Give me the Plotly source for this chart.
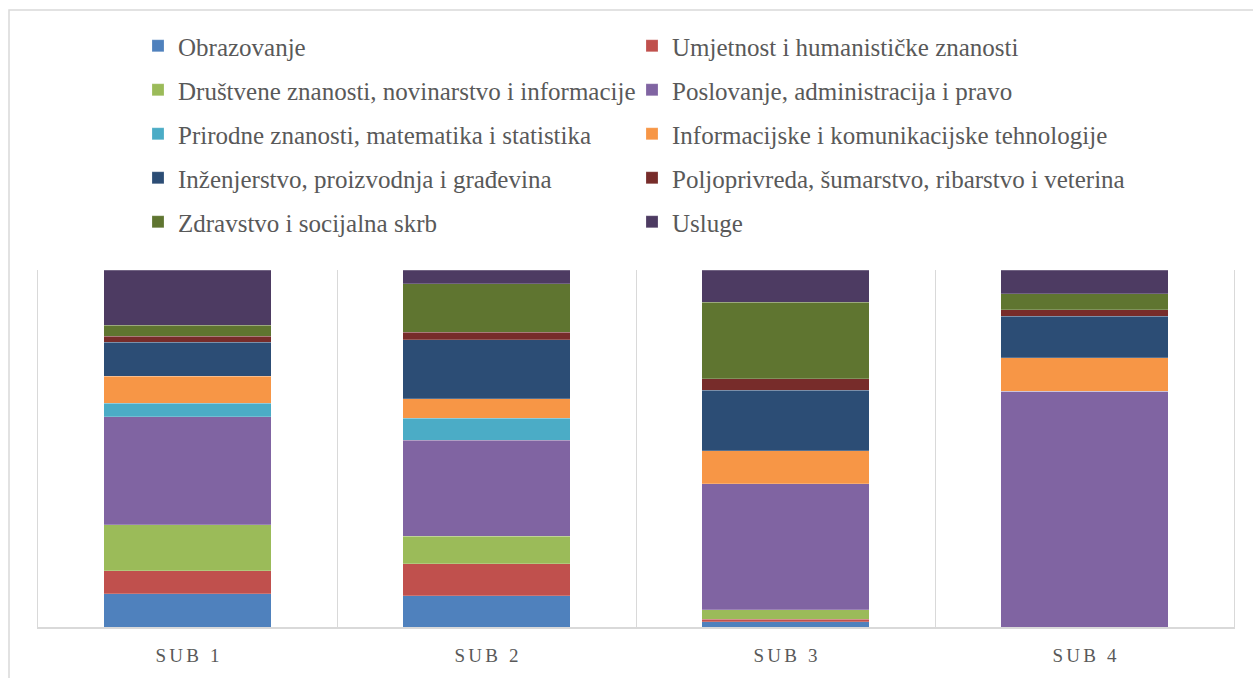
import plotly.graph_objects as go

categories = ["SUB 1", "SUB 2", "SUB 3", "SUB 4"]

fields = [
    "Obrazovanje",
    "Umjetnost i humanističke znanosti",
    "Društvene znanosti, novinarstvo i informacije",
    "Poslovanje, administracija i pravo",
    "Prirodne znanosti, matematika i statistika",
    "Informacijske i komunikacijske tehnologije",
    "Inženjerstvo, proizvodnja i građevina",
    "Poljoprivreda, šumarstvo, ribarstvo i veterina",
    "Zdravstvo i socijalna skrb",
    "Usluge",
]

# shares (%) per field, for SUB 1..SUB 4
obrazovanje = [9.3, 8.8, 1.5, 0.0]
umjetnost = [6.5, 8.9, 0.7, 0.0]
drustvene = [12.8, 7.7, 2.7, 0.0]
poslovanje = [30.2, 26.9, 35.2, 66.0]
prirodne = [3.8, 6.2, 0.0, 0.0]
ikt = [7.6, 5.5, 9.3, 9.4]
inzenjerstvo = [9.5, 16.4, 16.9, 11.7]
poljoprivreda = [1.7, 2.2, 3.2, 1.7]
zdravstvo = [3.1, 13.5, 21.5, 4.5]
usluge = [15.4, 3.9, 9.0, 6.7]

series = [obrazovanje, umjetnost, drustvene, poslovanje, prirodne,
          ikt, inzenjerstvo, poljoprivreda, zdravstvo, usluge]

colors = ["#4F81BD", "#C0504D", "#9BBB59", "#8064A2", "#4BACC6",
          "#F79646", "#2C4D75", "#772C2A", "#5F7530", "#4D3B62"]

W, H = 1253, 678
L, R, T, B = 38, 19, 270, 51
PW, PH = W - L - R, H - T - B


def px_x(p):
    return (p - L) / PW


def px_y(q):
    return (H - B - q) / PH


FONT = "Liberation Serif"
GREY = "#595959"
LINE = "#d9d9d9"

fig = go.Figure()
for i, (name, vals) in enumerate(zip(fields, series)):
    leg = "legend" if i // 2 == 0 else f"legend{i // 2 + 1}"
    fig.add_trace(go.Bar(
        x=categories, y=vals, name=name,
        marker=dict(color=colors[i], line=dict(color="rgba(255,255,255,0.35)", width=0.6)),
        legend=leg, hoverinfo="skip",
    ))

row_y = [46, 90, 134, 178, 222]
layout_legends = {}
for k, ry in enumerate(row_y):
    key = "legend" if k == 0 else f"legend{k + 1}"
    layout_legends[key] = dict(
        orientation="h", x=px_x(138), xanchor="left",
        y=px_y(ry), yanchor="middle", traceorder="normal",
        font=dict(family=FONT, size=25, color=GREY),
        entrywidth=449, entrywidthmode="pixels",
        bgcolor="rgba(0,0,0,0)", borderwidth=0,
        itemclick=False, itemdoubleclick=False,
    )

ticktext = ["\u200a\u200a".join(c) for c in categories]

fig.update_layout(
    width=W, height=H,
    margin=dict(l=L, r=R, t=T, b=B, pad=0, autoexpand=False),
    paper_bgcolor="white", plot_bgcolor="white",
    barmode="stack", barnorm="percent", bargap=0.44,
    showlegend=True,
    xaxis=dict(
        type="category", range=[-0.5, 3.5], tickson="boundaries",
        showgrid=True, gridcolor=LINE, gridwidth=1,
        showline=True, linecolor=LINE, linewidth=1.5,
        ticks="", tickvals=categories, ticktext=ticktext,
        tickfont=dict(family=FONT, size=19, color=GREY),
        ticklabelstandoff=10,
    ),
    yaxis=dict(
        range=[0, 100], showgrid=False, zeroline=False, showticklabels=False,
        ticks="", showline=True, mirror=True, linecolor=LINE, linewidth=1,
    ),
    shapes=[dict(
        type="rect", xref="paper", yref="paper",
        x0=px_x(9), x1=px_x(1265), y0=px_y(700), y1=px_y(10),
        line=dict(color=LINE, width=1.5), fillcolor="rgba(0,0,0,0)",
        layer="below",
    )],
    **layout_legends,
)

fig.write_html("out.html", config={"displayModeBar": False},
               post_script="document.body.style.margin='0';")
